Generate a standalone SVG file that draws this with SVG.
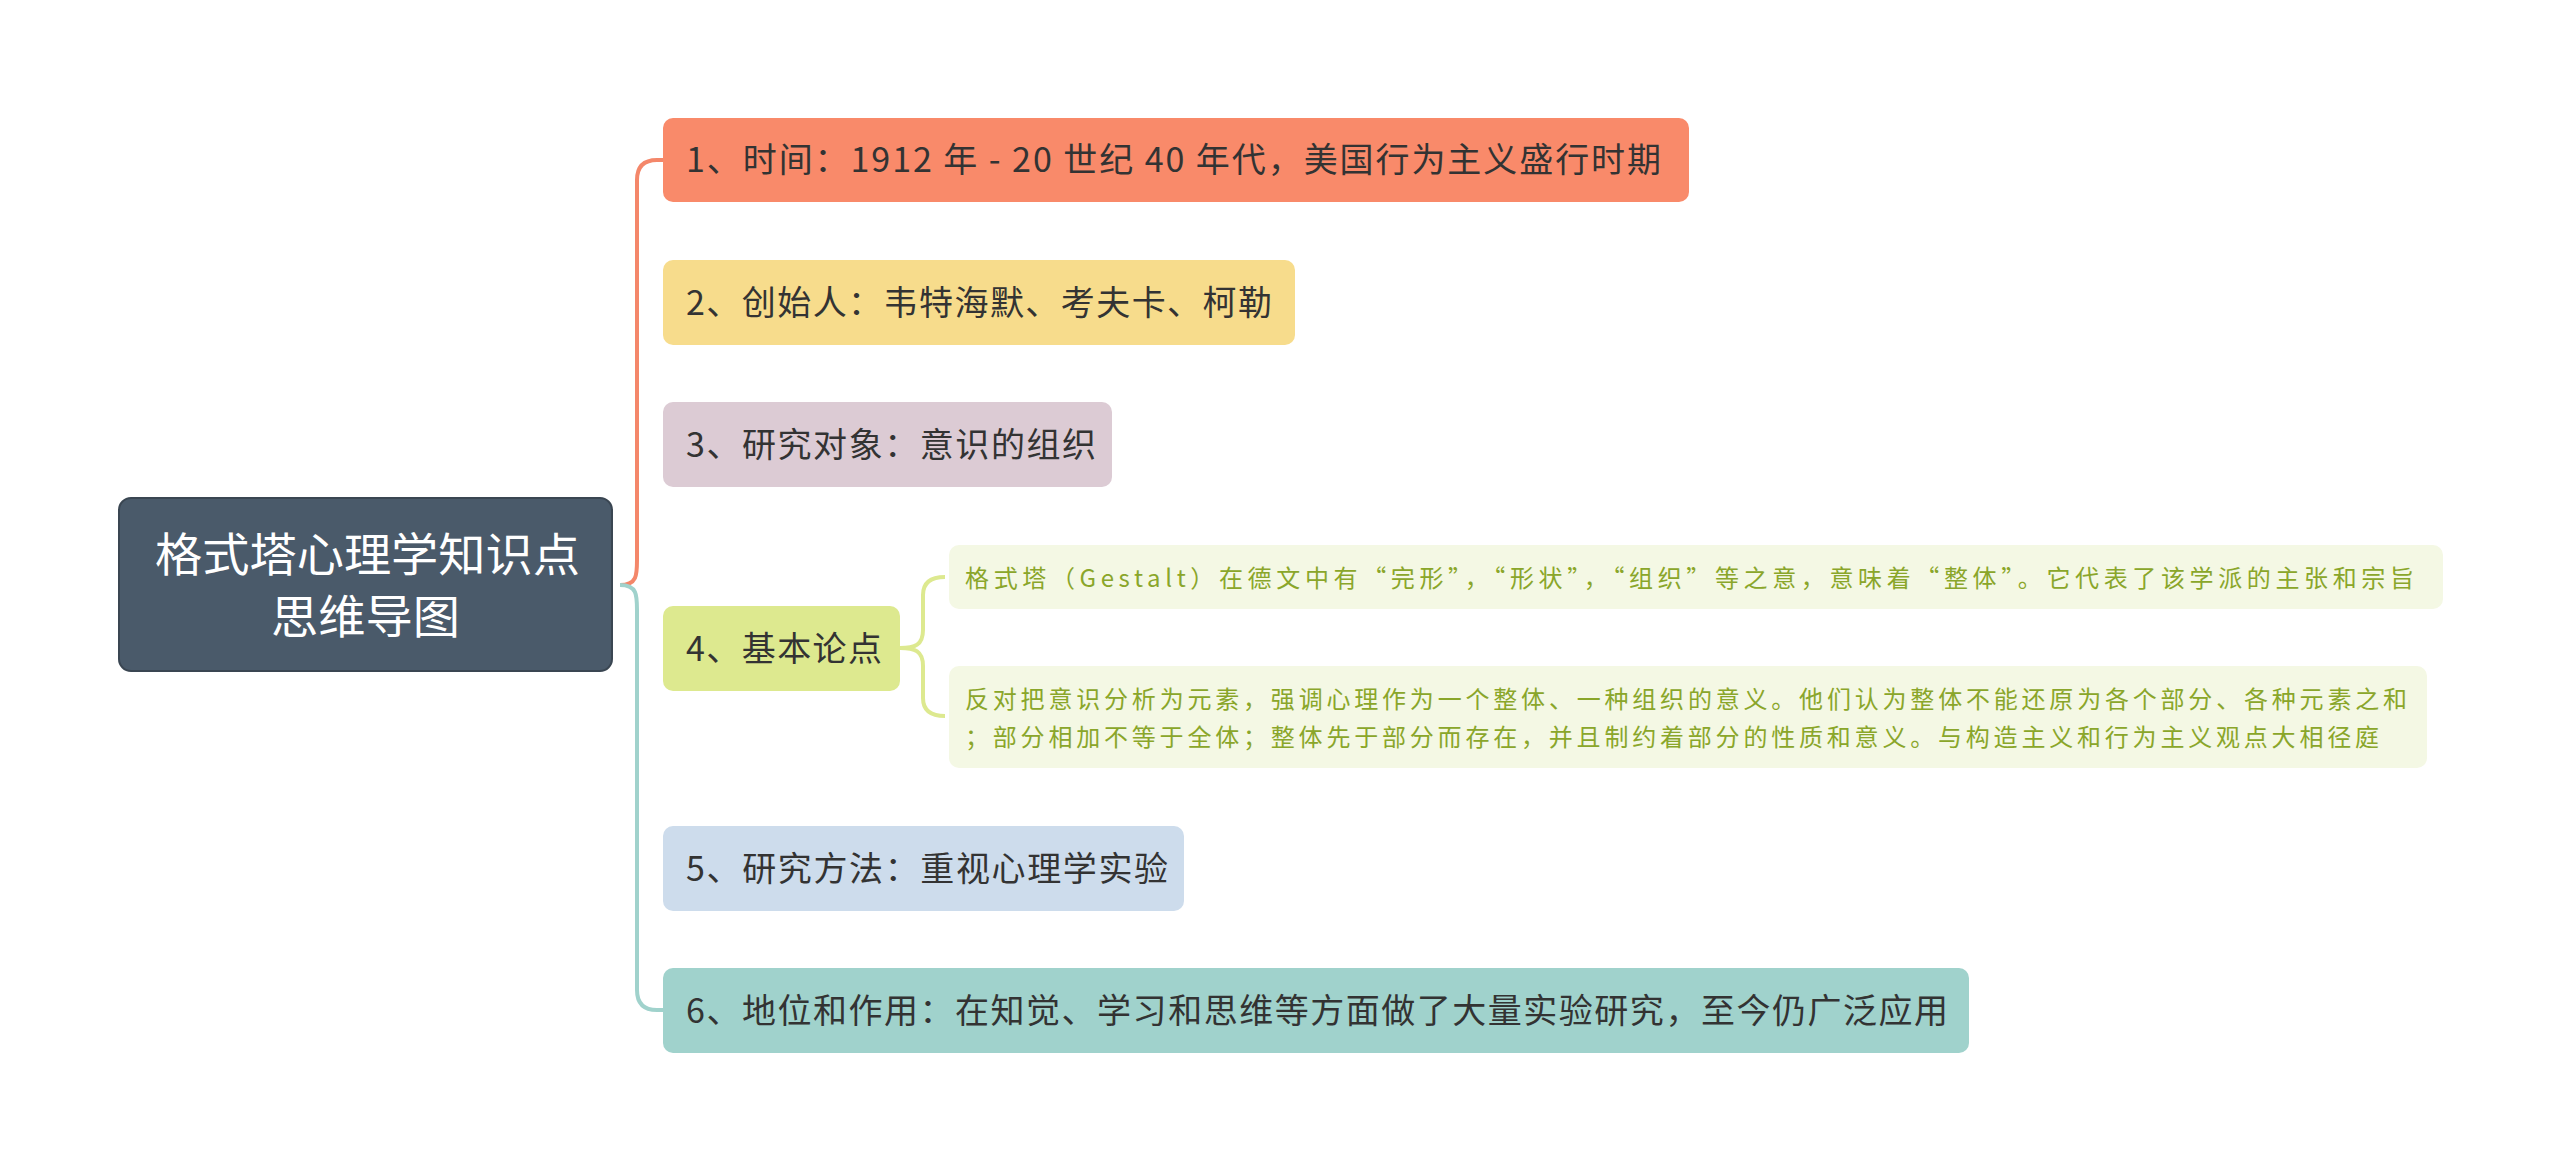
<svg xmlns="http://www.w3.org/2000/svg" width="2560" height="1171" viewBox="0 0 2560 1171">
<style>
text{font-family:"Noto Sans CJK SC","Noto Sans",sans-serif}
.t{font-size:34px;fill:#333}
.s{font-size:24px;fill:#8aa62a}
.c{fill:none;stroke-width:4}
</style>
<rect width="2560" height="1171" fill="#fff"/>
<g id="connectors">
<path class="c" stroke="#f4876a" d="M620,585 C637,585 637,575 637,560 L637,180 Q637,160 657,160 L663,160"/>
<path class="c" stroke="#a0d2cc" d="M620,585 C637,585 637,595 637,610 L637,990 Q637,1010 657,1010 L663,1010"/>
<path class="c" stroke="#dde98f" d="M900,648 C915,648 923,645 923,630 L923,595 Q923,577 945,577 M900,648 C915,648 923,651 923,666 L923,698 Q923,716 945,716"/>
</g>
<g id="root"><rect x="119" y="498" width="493" height="173" rx="12" fill="#4a5a6a" stroke="#3a4652" stroke-width="2"/>
<text x="155" y="571" font-size="46" fill="#fff" textLength="425" lengthAdjust="spacingAndGlyphs">格式塔心理学知识点</text>
<text x="271" y="633" font-size="46" fill="#fff" textLength="189" lengthAdjust="spacingAndGlyphs">思维导图</text></g>
<g id="n1"><rect x="663" y="118" width="1026" height="84" rx="10" fill="#f98a6a"/><text class="t" x="686" y="172" textLength="975">1、时间：1912 年 - 20 世纪 40 年代，美国行为主义盛行时期</text></g>
<g id="n2"><rect x="663" y="260" width="632" height="85" rx="10" fill="#f7dc8c"/><text class="t" x="686" y="315" textLength="586">2、创始人：韦特海默、考夫卡、柯勒</text></g>
<g id="n3"><rect x="663" y="402" width="449" height="85" rx="10" fill="#dccbd4"/><text class="t" x="686" y="457" textLength="410">3、研究对象：意识的组织</text></g>
<g id="n4"><rect x="663" y="606" width="237" height="85" rx="10" fill="#dde98f"/><text class="t" x="686" y="661" textLength="196">4、基本论点</text></g>
<g id="n4a"><rect x="949" y="545" width="1494" height="64" rx="10" fill="#f4f8e4"/><text class="s" x="965" y="587" textLength="1449">格式塔（Gestalt）在德文中有“完形”，“形状”，“组织”等之意，意味着“整体”。它代表了该学派的主张和宗旨</text></g>
<g id="n4b"><rect x="949" y="666" width="1478" height="102" rx="10" fill="#f4f8e4"/><text class="s" x="965" y="708" textLength="1442">反对把意识分析为元素，强调心理作为一个整体、一种组织的意义。他们认为整体不能还原为各个部分、各种元素之和</text><text class="s" x="965" y="746" textLength="1414">；部分相加不等于全体；整体先于部分而存在，并且制约着部分的性质和意义。与构造主义和行为主义观点大相径庭</text></g>
<g id="n5"><rect x="663" y="826" width="521" height="85" rx="10" fill="#cddcec"/><text class="t" x="686" y="881" textLength="482">5、研究方法：重视心理学实验</text></g>
<g id="n6"><rect x="663" y="968" width="1306" height="85" rx="10" fill="#a0d2cc"/><text class="t" x="686" y="1023" textLength="1262">6、地位和作用：在知觉、学习和思维等方面做了大量实验研究，至今仍广泛应用</text></g>
</svg>
